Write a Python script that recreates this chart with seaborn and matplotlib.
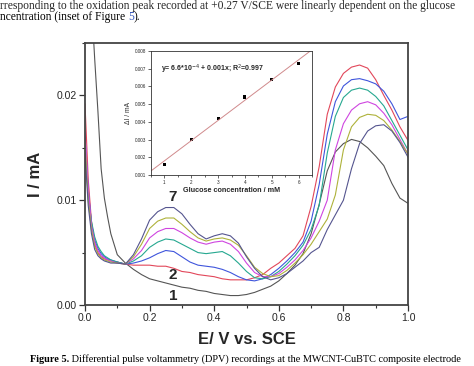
import numpy as np
import pandas as pd
import matplotlib
matplotlib.use("Agg")
import matplotlib.pyplot as plt
from matplotlib.ticker import MultipleLocator, FormatStrFormatter
import seaborn as sns

# Potencial (V vs. SCE) y corrientes (mA)
E = [0.00, 0.01, 0.02, 0.03, 0.04, 0.05, 0.06, 0.07, 0.08, 0.10,
     0.125, 0.15, 0.175, 0.20, 0.225, 0.25, 0.275, 0.30, 0.325, 0.35,
     0.375, 0.40, 0.425, 0.45, 0.475, 0.50, 0.525, 0.55, 0.575, 0.60,
     0.625, 0.65, 0.675, 0.70, 0.725, 0.75, 0.775, 0.80, 0.825, 0.85,
     0.875, 0.90, 0.925, 0.95, 0.975, 1.00]

I_1 = [0.038, 0.033, 0.029, 0.0235, 0.0185, 0.0130, 0.0102, 0.0084, 0.0068, 0.0048,
       0.0040, 0.0034, 0.0029, 0.0025, 0.0023, 0.0021, 0.0019, 0.0017, 0.0016, 0.0014,
       0.0013, 0.0011, 0.0010, 0.0009, 0.0009, 0.0010, 0.0012, 0.0015, 0.0018, 0.0023,
       0.0030, 0.0038, 0.0049, 0.0068, 0.0096, 0.0128, 0.0146, 0.0154, 0.0158, 0.0156,
       0.0150, 0.0142, 0.0133, 0.0116, 0.0102, 0.0097]
I_2 = [0.0192, 0.0120, 0.0080, 0.0058, 0.0050, 0.0046, 0.0044, 0.0043, 0.0042, 0.0041,
       0.0039, 0.0038, 0.0038, 0.0038, 0.0037, 0.0037, 0.0035, 0.0032, 0.0031, 0.0029,
       0.0028, 0.0027, 0.0025, 0.0024, 0.0024, 0.0024, 0.0026, 0.0029, 0.0035, 0.0040,
       0.0047, 0.0054, 0.0066, 0.0094, 0.0132, 0.0182, 0.0208, 0.0221, 0.0227, 0.0229,
       0.0226, 0.0215, 0.0200, 0.0186, 0.0170, 0.0157]
I_3 = [0.0160, 0.0110, 0.0078, 0.0062, 0.0054, 0.0049, 0.0046, 0.0044, 0.0043, 0.0041,
       0.0039, 0.0040, 0.0042, 0.0045, 0.0049, 0.0052, 0.0051, 0.0046, 0.0041, 0.0038,
       0.0037, 0.0036, 0.0034, 0.0031, 0.0027, 0.0024, 0.0023, 0.0025, 0.0029, 0.0035,
       0.0042, 0.0050, 0.0060, 0.0080, 0.0115, 0.0163, 0.0194, 0.0209, 0.0215, 0.0216,
       0.0214, 0.0211, 0.0204, 0.0192, 0.0177, 0.0180]
I_4 = [0.0150, 0.0105, 0.0080, 0.0065, 0.0056, 0.0051, 0.0047, 0.0045, 0.0043, 0.0041,
       0.0039, 0.0042, 0.0047, 0.0055, 0.0060, 0.0063, 0.0062, 0.0058, 0.0054, 0.0050,
       0.0049, 0.0050, 0.0051, 0.0047, 0.0040, 0.0032, 0.0026, 0.0025, 0.0027, 0.0032,
       0.0039, 0.0047, 0.0057, 0.0072, 0.0095, 0.0145, 0.0180, 0.0198, 0.0205, 0.0207,
       0.0205, 0.0199, 0.0190, 0.0176, 0.0162, 0.0148]
I_5 = [0.0165, 0.0112, 0.0076, 0.0060, 0.0052, 0.0047, 0.0045, 0.0043, 0.0042, 0.0040,
       0.0039, 0.0044, 0.0052, 0.0064, 0.0070, 0.0073, 0.0073, 0.0069, 0.0064, 0.0060,
       0.0058, 0.0060, 0.0061, 0.0058, 0.0051, 0.0040, 0.0031, 0.0027, 0.0027, 0.0030,
       0.0036, 0.0043, 0.0052, 0.0064, 0.0080, 0.0100, 0.0148, 0.0173, 0.0186, 0.0192,
       0.0194, 0.0191, 0.0183, 0.0172, 0.0158, 0.0144]
I_6 = [0.0155, 0.0100, 0.0072, 0.0056, 0.0049, 0.0045, 0.0043, 0.0042, 0.0041, 0.0040,
       0.0039, 0.0046, 0.0058, 0.0073, 0.0080, 0.0083, 0.0083, 0.0077, 0.0070, 0.0064,
       0.0061, 0.0063, 0.0064, 0.0062, 0.0057, 0.0047, 0.0036, 0.0030, 0.0027, 0.0028,
       0.0033, 0.0040, 0.0048, 0.0058, 0.0070, 0.0082, 0.0105, 0.0148, 0.0170, 0.0179,
       0.0182, 0.0181, 0.0176, 0.0167, 0.0156, 0.0144]
I_7 = [0.0145, 0.0095, 0.0068, 0.0053, 0.0047, 0.0044, 0.0042, 0.0041, 0.0040, 0.0040,
       0.0039, 0.0048, 0.0063, 0.0081, 0.0089, 0.0093, 0.0093, 0.0087, 0.0077, 0.0068,
       0.0063, 0.0066, 0.0068, 0.0066, 0.0059, 0.0046, 0.0035, 0.0027, 0.0024, 0.0026,
       0.0030, 0.0036, 0.0042, 0.0050, 0.0055, 0.0072, 0.0086, 0.0100, 0.0130, 0.0154,
       0.0166, 0.0171, 0.0172, 0.0166, 0.0155, 0.0141]

curvas = ["1", "2", "3", "4", "5", "6", "7"]
colores = ["#555555", "#e2475a", "#3f55dc", "#26a890", "#cf45e0", "#aeb23a", "#55558f"]

# Inserto: calibracion
glucosa = [1, 2, 3, 4, 5, 6]
delta_I = [0.0016, 0.0030, 0.0042, 0.0054, 0.0064, 0.0073]

datos = pd.DataFrame({
    "E": E * 7,
    "I": I_1 + I_2 + I_3 + I_4 + I_5 + I_6 + I_7,
    "curva": [c for c in curvas for _ in E],
})

sns.set_style("ticks")
plt.rcParams["font.family"] = ["Liberation Sans", "DejaVu Sans"]

fig = plt.figure(figsize=(4.74, 3.66), dpi=100)
ax = fig.add_axes([0.1793, 0.1667, 0.6815, 0.7158])

sns.lineplot(data=datos, x="E", y="I", hue="curva", palette=colores,
             estimator=None, sort=False, legend=False, lw=0.8, ax=ax)

ax.set_xlim(0, 1.0)
ax.set_ylim(0, 0.025)
ax.xaxis.set_major_locator(MultipleLocator(0.2))
ax.xaxis.set_minor_locator(MultipleLocator(0.1))
ax.yaxis.set_major_locator(MultipleLocator(0.01))
ax.yaxis.set_minor_locator(MultipleLocator(0.005))
ax.xaxis.set_major_formatter(FormatStrFormatter("%.1f"))
ax.yaxis.set_major_formatter(FormatStrFormatter("%.2f"))
ax.tick_params(axis="both", which="major", labelsize=7.5, length=4, width=0.9,
               direction="out", color="#333333", pad=2)
ax.tick_params(axis="both", which="minor", length=2.5, width=0.8, direction="out",
               color="#333333")
for s in ax.spines.values():
    s.set_linewidth(1.3)
    s.set_color("#444444")
ax.set_xlabel("E/ V vs. SCE", fontsize=12, fontweight="bold", labelpad=6)
ax.set_ylabel("I / mA", fontsize=12, fontweight="bold", labelpad=10)

ax.text(0.272, 0.0103, "7", fontsize=11, fontweight="bold", ha="center", va="center")
ax.text(0.272, 0.0029, "2", fontsize=11, fontweight="bold", ha="center", va="center")
ax.text(0.272, 0.0009, "1", fontsize=11, fontweight="bold", ha="center", va="center")

# Inserto
axi = fig.add_axes([0.3186, 0.5219, 0.3396, 0.3388])
axi.set_xlim(0.5, 6.5)
axi.set_ylim(0.001, 0.008)
sns.regplot(x=glucosa, y=delta_I, scatter=False, ci=None, truncate=False,
            line_kws={"color": "#d08a8c", "lw": 0.7}, ax=axi)
sns.scatterplot(x=glucosa, y=delta_I, marker="s", color="black", s=5,
                edgecolor="none", ax=axi)
axi.set_xlim(0.5, 6.5)
axi.set_ylim(0.001, 0.008)
axi.xaxis.set_major_locator(MultipleLocator(1))
axi.yaxis.set_major_locator(MultipleLocator(0.001))
axi.xaxis.set_minor_locator(MultipleLocator(0.5))
axi.yaxis.set_major_formatter(FormatStrFormatter("%.3f"))
axi.tick_params(axis="both", which="major", labelsize=3.3, length=2, width=0.5,
                direction="out", pad=1.5)
axi.tick_params(axis="both", which="minor", length=1.2, width=0.5, direction="out")
for s in axi.spines.values():
    s.set_linewidth(0.6)
    s.set_color("#333333")
axi.set_xlabel("Glucose concentration / mM", fontsize=5.2, fontweight="bold", labelpad=1.5)
axi.set_ylabel("\u0394I / mA", fontsize=4.8, labelpad=2)
axi.text(0.06, 0.85, "y= 6.6*10$^{-4}$ + 0.001x; R$^{2}$=0.997", transform=axi.transAxes,
         fontsize=5, fontweight="bold", va="center")

# Texto del articulo alrededor de la figura
serif = ["Liberation Serif", "DejaVu Serif"]
fig.canvas.draw()
r = fig.canvas.get_renderer()
inv = fig.transFigure.inverted()


def texto_seguido(partes, x, y, size):
    for cadena, peso, color in partes:
        t = fig.text(x, y, cadena, fontsize=size, fontweight=peso, color=color,
                     family=serif, va="baseline")
        bb = t.get_window_extent(renderer=r)
        x = inv.transform((bb.x1, bb.y0))[0]


fig.text(0.0, 1 - 9 / 366, "rresponding to the oxidation peak recorded at +0.27 V/SCE were linearly dependent on the glucose",
         fontsize=8.3, family=serif, va="baseline")
texto_seguido([("ncentration (inset of Figure ", "normal", "black"),
               ("5", "normal", "#3355bb"),
               (").", "normal", "black")], 0.0, 1 - 20 / 366, 8.3)
texto_seguido([("Figure 5.", "bold", "black"),
               (" Differential pulse voltammetry (DPV) recordings at the MWCNT-CuBTC composite electrode", "normal", "black")],
              30 / 474, 1 - 362 / 366, 7.4)

fig.savefig("out.png", dpi=100)
